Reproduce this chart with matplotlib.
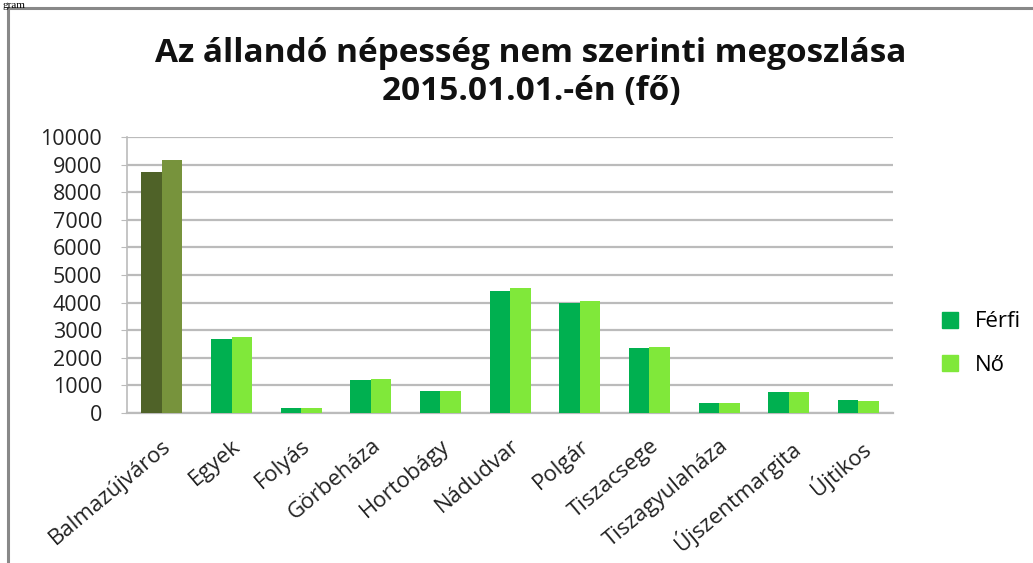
import matplotlib.pyplot as plt
import numpy as np
from matplotlib.lines import Line2D

# Data (persons, 2015.01.01)
telepulesek = ["Balmazújváros", "Egyek", "Folyás", "Görbeháza", "Hortobágy",
               "Nádudvar", "Polgár", "Tiszacsege", "Tiszagyulaháza",
               "Újszentmargita", "Újtikos"]
ferfi = [8730, 2680, 190, 1200, 790, 4420, 4000, 2355, 380, 760, 460]
no = [9170, 2740, 180, 1230, 790, 4540, 4070, 2405, 370, 750, 450]
y_ticks = list(range(0, 10001, 1000))

FERFI_COLOR = "#00B050"
NO_COLOR = "#80E83A"
# the first group is highlighted in olive tones
HL_FERFI = "#4F6228"
HL_NO = "#77933C"

plt.rcParams["font.family"] = ["Open Sans", "DejaVu Sans"]

fig = plt.figure(figsize=(10.33, 5.63), dpi=100)
ax = fig.add_axes([0.123, 0.2664, 0.7417, 0.4903])

x = np.arange(len(telepulesek))
w = 0.295
f_colors = [HL_FERFI] + [FERFI_COLOR] * (len(x) - 1)
n_colors = [HL_NO] + [NO_COLOR] * (len(x) - 1)
ax.bar(x - w / 2, ferfi, width=w, color=f_colors, zorder=3)
ax.bar(x + w / 2, no, width=w, color=n_colors, zorder=3)

ax.set_xlim(-0.5, len(x) - 0.5)
ax.set_ylim(0, 10000)
ax.set_yticks(y_ticks)
ax.set_yticklabels([str(v) for v in y_ticks], fontsize=15.5, color="#222222")
ax.yaxis.grid(True, color="#BBBBBB", linewidth=1.6, zorder=0)
ax.set_xticks(x)
ax.set_xticklabels(telepulesek, rotation=40, ha="right", rotation_mode="anchor",
                   fontsize=16, color="#222222")
ax.tick_params(axis="x", length=0, pad=16)
ax.tick_params(axis="y", length=4, color="#BBBBBB", pad=14)

for side in ["top", "right"]:
    ax.spines[side].set_visible(False)
ax.spines["left"].set_color("#BBBBBB")
ax.spines["bottom"].set_color("#BBBBBB")
ax.spines["left"].set_linewidth(1.2)
ax.spines["bottom"].set_linewidth(1.6)

# title
fig.text(0.514, 0.905, "Az állandó népesség nem szerinti megoszlása",
         ha="center", va="center", fontsize=24, fontweight="bold", color="#111111")
fig.text(0.514, 0.837, "2015.01.01.-én (fő)",
         ha="center", va="center", fontsize=24, fontweight="bold", color="#111111")

# legend
handles = [Line2D([], [], marker="s", linestyle="", markersize=12, color=FERFI_COLOR),
           Line2D([], [], marker="s", linestyle="", markersize=12, color=NO_COLOR)]
fig.legend(handles, ["Férfi", "Nő"], loc="center left", bbox_to_anchor=(0.879, 0.39),
           frameon=False, fontsize=16, handletextpad=0.1, labelspacing=1.0)

# surrounding frame of the embedded chart
fig.add_artist(Line2D([0.008, 0.008], [0.0, 0.986], color="#888888", linewidth=2.2))
fig.add_artist(Line2D([0.008, 1.0], [0.986, 0.986], color="#888888", linewidth=2.2))
fig.text(0.002, 0.999, "gram", ha="left", va="top", fontsize=8,
         family=["Liberation Serif", "DejaVu Serif"])

fig.savefig("out.png", dpi=100)
